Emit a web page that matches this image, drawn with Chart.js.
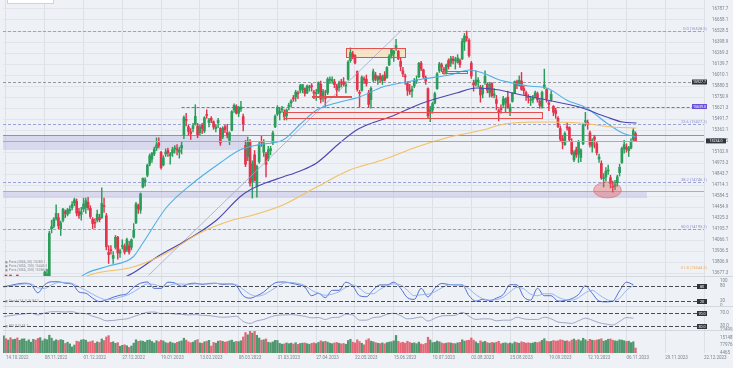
<!DOCTYPE html>
<html><head><meta charset="utf-8">
<script src="https://cdn.jsdelivr.net/npm/chart.js@4.4.0/dist/chart.umd.min.js"></script>
<style>html,body{margin:0;padding:0;background:#eef1f5;}canvas{display:block;}</style>
</head><body>
<canvas id="c" width="733" height="368"></canvas>
<script>
// ---------- DATA ----------
const dateLabels = ['14.10.2022','08.11.2022','01.12.2022','27.12.2022','19.01.2023','13.02.2023','08.03.2023','31.03.2023','27.04.2023','22.05.2023','15.06.2023','10.07.2023','02.08.2023','25.08.2023','19.09.2023','12.10.2023','06.11.2023','29.11.2023','22.12.2023'];
const dateIdx = [1,18,35,52,69,86,103,120,137,154,171,188,205,222,239,256,273,290,307];

const opens = [12130,12440,12480,12770,12700,12700,12740,12840,12960,13120,
13190,13200,13220,13300,13330,13170,13190,13420,13520,13650,
13630,14200,14230,14320,14330,14200,14300,14400,14370,14410,
14450,14500,14520,14400,14370,14430,14450,14510,14440,14310,
14270,14300,14330,14330,14470,14350,13920,13950,13850,13980,
14100,13910,13990,13990,13950,14000,13980,14100,14270,14470,
14420,14690,14750,14830,14960,15020,15080,15150,15210,15100,
14950,15080,15120,15060,15090,15140,15140,15100,15150,15300,
15480,15400,15340,15380,15430,15410,15330,15420,15350,15540,
15450,15500,15460,15380,15450,15380,15280,15400,15330,15240,
15360,15600,15640,15560,15610,15520,15180,15050,15220,14750,
15070,14700,14990,15220,15100,15080,15020,15120,15210,15400,
15550,15560,15600,15570,15530,15640,15680,15730,15750,15800,
15830,15840,15850,15800,15860,15880,15810,15790,15810,15900,
15760,15750,15800,15950,15940,15930,15880,15860,15920,15930,
15880,15960,16180,16260,16240,16050,15800,15830,15960,15960,
15800,15720,15950,16010,15950,16000,15940,16010,15980,16130,
16240,16260,16330,16290,16170,16060,16000,15910,15830,15820,
15880,15940,15990,16150,16070,15980,15850,15560,15600,15680,
15850,16060,16130,16070,16040,16180,16150,16200,16180,16160,
16180,16200,16400,16460,16420,16150,15920,15900,15930,15870,
15790,15920,15900,15800,15910,15770,15720,15590,15620,15660,
15680,15750,15580,15700,15800,15930,15890,15940,15850,15800,
15750,15710,15720,15760,15790,15700,15640,15860,15840,15680,
15720,15640,15590,15500,15380,15260,15190,15400,15390,15220,
15010,15130,15080,15040,15200,15460,15450,15330,15170,15280,
15200,15020,14970,14790,14810,14880,14800,14690,14700,14740,
14860,14980,15140,15160,15120,15150,15250,15320];
const highs = [12380,12550,12670,12890,12760,12800,12750,12970,13080,13250,
13300,13270,13300,13420,13360,13220,13480,13560,13700,13720,
14170,14300,14330,14480,14380,14290,14440,14420,14440,14470,
14520,14560,14550,14440,14450,14560,14560,14570,14470,14330,
14320,14420,14370,14680,14560,14380,14000,14000,13930,14120,
14110,13960,14070,14020,14090,14050,14080,14260,14510,14490,
14620,14800,14800,14960,15080,15100,15160,15270,15270,15110,
15060,15140,15150,15100,15160,15180,15190,15160,15220,15530,
15560,15420,15380,15440,15660,15440,15420,15440,15520,15600,
15500,15520,15470,15430,15500,15390,15400,15420,15430,15340,
15590,15670,15660,15640,15700,15550,15240,15280,15250,15000,
15120,14950,15220,15290,15250,15100,15170,15170,15350,15540,
15650,15630,15640,15600,15610,15680,15720,15770,15830,15820,
15900,15900,15860,15890,15890,15910,15830,15840,15930,15940,
15840,15830,15980,15990,15990,15960,15900,15940,15960,15980,
15930,16180,16330,16290,16250,16060,15830,16000,15990,16010,
15830,15870,16080,16040,16000,16030,16010,16050,16110,16250,
16320,16300,16430,16300,16210,16100,16020,15930,15900,15880,
15970,16000,16160,16170,16080,16000,15860,15640,15690,15810,
16040,16160,16150,16100,16140,16200,16230,16230,16220,16250,
16200,16440,16500,16528,16440,16170,15950,16060,15980,15890,
15890,16060,15920,15920,15920,15850,15770,15610,15660,15760,
15740,15820,15670,15800,15940,15950,16000,16040,15880,15820,
15780,15760,15770,15820,15810,15720,15820,16080,15850,15700,
15820,15650,15620,15520,15410,15300,15340,15450,15400,15260,
15120,15160,15240,15140,15440,15570,15480,15350,15260,15300,
15230,15080,15000,14850,14920,14950,14830,14760,14770,14830,
14960,15160,15240,15200,15170,15260,15380,15340];
const lows = [11975,12350,12440,12690,12590,12620,12510,12750,12890,13080,
13150,13100,13180,13270,13180,13040,13170,13370,13480,13580,
13600,14150,14210,14300,14200,14120,14280,14330,14350,14380,
14420,14470,14350,14320,14300,14400,14380,14420,14320,14200,
14210,14280,14280,14320,14390,13950,13790,13900,13790,13960,
13840,13860,13960,13900,13930,13900,13950,14090,14260,14380,
14380,14680,14700,14810,14940,14980,15060,15120,15150,14900,
14940,15050,15050,14960,15050,15090,15070,15030,15080,15260,
15410,15300,15250,15340,15420,15270,15300,15320,15330,15500,
15400,15450,15370,15340,15390,15180,15260,15330,15270,15190,
15350,15570,15550,15520,15580,15350,14930,15000,14700,14560,
14760,14570,14970,15170,15050,14810,15000,15070,15190,15390,
15530,15480,15570,15480,15480,15600,15630,15700,15700,15730,
15800,15800,15760,15790,15820,15820,15730,15710,15790,15680,
15700,15630,15780,15910,15910,15860,15760,15820,15870,15880,
15800,15950,16160,16200,16140,15820,15630,15820,15910,15880,
15630,15620,15930,15940,15900,15920,15900,15940,15970,16120,
16210,16170,16300,16190,16060,15990,15900,15770,15780,15750,
15860,15910,15980,16060,15970,15900,15500,15460,15560,15670,
15840,16040,16050,16020,16020,16080,16110,16140,16080,16150,
16100,16190,16300,16410,16220,15970,15820,15880,15870,15690,
15740,15900,15800,15750,15750,15740,15600,15470,15560,15640,
15570,15620,15530,15690,15790,15850,15880,15830,15780,15710,
15680,15650,15680,15740,15690,15620,15620,15850,15690,15590,
15700,15530,15500,15390,15230,15140,15180,15360,15230,15070,
14990,15040,14980,14990,15190,15410,15370,15160,15100,15150,
15070,14980,14780,14690,14760,14840,14680,14630,14660,14700,
14820,14970,15090,15100,15050,15140,15230,15230];
const closes = [12355,12438,12649,12765,12741,12767,12731,12931,13052,13195,
13211,13243,13253,13338,13256,13130,13460,13533,13689,13666,
14146,14224,14313,14379,14234,14267,14431,14380,14423,14428,
14484,14541,14383,14355,14397,14490,14529,14448,14343,14261,
14264,14371,14306,14497,14460,13987,13894,13942,13884,14098,
13914,13940,13995,13925,14071,13924,14069,14181,14491,14436,
14610,14792,14775,14948,15058,15086,15134,15187,15181,14920,
15033,15103,15094,15082,15132,15150,15126,15128,15181,15509,
15476,15345,15320,15412,15523,15307,15397,15380,15506,15534,
15482,15477,15398,15400,15475,15210,15381,15365,15305,15327,
15578,15653,15560,15631,15633,15428,14959,15232,14735,14967,
14768,14933,15195,15216,15210,14957,15128,15142,15328,15522,
15629,15581,15603,15520,15598,15655,15703,15729,15808,15789,
15883,15896,15795,15882,15864,15872,15796,15800,15922,15726,
15815,15734,15961,15952,15955,15897,15834,15914,15917,15898,
15897,16163,16275,16224,16152,15842,15794,15984,15952,15909,
15664,15853,16051,15964,15992,15960,15990,15950,16098,16231,
16311,16290,16358,16201,16111,16023,15988,15830,15813,15846,
15949,15946,16148,16081,15989,15938,15529,15603,15673,15790,
16024,16141,16105,16068,16125,16109,16204,16177,16191,16211,
16131,16406,16469,16447,16240,15999,15893,15952,15950,15775,
15852,15996,15832,15904,15767,15789,15676,15574,15603,15729,
15729,15622,15632,15792,15931,15891,15947,15840,15825,15772,
15741,15718,15740,15800,15715,15654,15806,15894,15727,15664,
15782,15572,15557,15405,15256,15217,15323,15387,15247,15085,
15100,15070,15229,15128,15423,15460,15425,15187,15238,15251,
15095,15045,14798,14800,14879,14892,14731,14687,14716,14810,
14923,15143,15189,15136,15152,15229,15353,15234];
const volumes = [168000,142000,128000,151000,133000,137000,149000,126000,139000,141000,118000,131000,109000,136000,128000,144000,152000,121000,139000,132000,
175000,147000,119000,131000,124000,133000,127000,96000,108000,92000,63000,81000,118000,112000,129000,134000,127000,109000,113000,121000,98000,111000,105000,139000,124000,
158000,171000,106000,112000,97000,104000,69000,78000,83000,74000,58000,72000,99000,131000,116000,
121000,118000,109000,126000,129000,115000,101000,122000,113000,127000,120000,104000,99000,110000,102000,96000,107000,114000,121000,146000,128000,112000,103000,109000,124000,133000,101000,98000,112000,117000,126000,71000,106000,99000,118000,122000,116000,109000,114000,121000,
128000,109000,116000,113000,122000,158000,201000,179000,212000,196000,218000,174000,148000,127000,131000,139000,108000,102000,111000,126000,
124000,97000,89000,92000,101000,94000,99000,91000,103000,87000,96000,99000,101000,94000,88000,97000,102000,95000,106000,121000,112000,117000,109000,99000,94000,101000,106000,98000,92000,96000,88000,124000,136000,109000,101000,131000,114000,97000,83000,128000,
141000,118000,112000,104000,98000,95000,101000,93000,104000,109000,113000,121000,173000,116000,102000,108000,99000,117000,106000,98000,102000,94000,109000,91000,86000,97000,156000,129000,104000,108000,119000,112000,101000,95000,99000,104000,101000,96000,94000,102000,
106000,131000,118000,124000,127000,149000,128000,111000,96000,121000,109000,116000,104000,98000,106000,101000,108000,117000,93000,99000,102000,95000,101000,94000,109000,104000,98000,112000,106000,99000,103000,97000,101000,108000,104000,111000,126000,142000,118000,113000,
116000,124000,119000,121000,131000,127000,118000,122000,113000,128000,138000,124000,132000,121000,146000,131000,119000,136000,127000,124000,129000,133000,141000,118000,125000,136000,139000,127000,121000,119000,131000,128000,122000,115000,118000,104000,112000,52000];

// moving averages (bar index, value)
const ma50X = [30,36.5,46,56.7,61,71.5,83,94.8,103.5,112,122.4,130,137.2,147,156,166.1,176.6,183.7,195.5,204.3,210,217.4,223,230,238,246.7,255.5,264.3,271.3,277.4];
const ma50Y = [13560,13678,13760,13866,14031,14455,14738,14973,15127,15190,15244,15430,15598,15690,15751,15869,15928,15963,16010,16069,16034,15951,15916,15880,15857,15716,15621,15445,15327,15280];
const ma100X = [50,56.7,68,80.3,93.4,103.5,107.9,115,122.4,130,137.2,147.3,154.7,160,169.2,183.7,198.5,207.3,217.4,223,238,252.4,264.3,271.3,277.4];
const ma100Y = [13590,13678,13880,14066,14302,14573,14655,14740,14809,14880,14974,15209,15362,15430,15515,15680,15798,15857,15833,15798,15716,15633,15515,15456,15445];
const ma200X = [36,40.9,56.7,71.5,86,100.4,107.9,122.4,137.2,151.7,166.1,181,195.5,210,217.4,223,238,252.4,266.9,277.4];
const ma200Y = [13640,13678,13748,13913,14149,14302,14349,14479,14691,14891,15009,15162,15280,15362,15421,15445,15457,15445,15398,15386];
const trendX = [63.5,174.5];
const trendY = [13650,16540];

// oscillators (every 3rd bar)
const stochK = [77,82,88,91,85,52,85,97,97,91,88,55,50,30,16,23,34,42,48,75,91,96,70,70,95,92,78,88,91,86,90,91,86,88,80,40,30,40,55,80,95,96,91,85,75,40,50,32,62,62,95,80,40,36,64,84,84,95,70,32,25,70,35,70,90,86,84,84,40,18,25,20,30,45,85,84,35,22,70,40,40,18,20,28,45,80,50,18,15,18,60,95,85];
const stochD = [75,79,84,88,88,72,70,84,94,94,90,76,62,46,32,24,26,34,42,56,74,88,86,78,80,88,88,86,88,88,88,90,89,88,85,66,46,38,44,60,78,92,94,90,82,62,50,42,46,56,74,84,70,50,48,66,80,88,84,62,40,44,46,56,72,84,86,84,68,44,28,22,24,34,56,74,68,46,40,48,48,34,24,22,32,52,62,44,26,18,30,62,82];
const rsi = [59,62,65,67,69,64,70,74,74,73,74,69,68,60,54,46,47,50,52,59,66,72,73,68,69,67,66,64,65,63,62,59,57,58,60,44,38,46,50,58,63,64,65,63,60,55,56,50,56,57,66,64,48,48,56,58,66,69,62,52,54,58,45,54,61,62,63,72,60,50,52,52,46,48,48,57,52,50,50,57,52,42,40,38,46,54,48,40,36,33,44,56,54];

// axis ticks
const priceTicks = [16787.7,16658.1,16528.5,16398.9,16269.3,16139.7,16010.1,15880.5,15750.9,15621.3,15491.7,15362.1,15232.5,15102.9,14973.3,14843.7,14714.1,14584.5,14454.9,14325.3,14195.7,14066.1,13936.5,13806.9,13677.3];
const stochTicks = [0,20,80,100];
const rsiTicks = [30,70];
const volTicks = [4465,77976,151487,224999];

// drawn levels / zones (price, bar index)
const fibPrices = [16528.5,15427.2,14746.1,14195.2,13644.3];
const fibNames = ['0.0 (16528.5)','23.6 (15427.2)','38.2 (14746.1)','50.0 (14195.2)','61.8 (13644.3)'];
const grayLevel = 15927.7;
const purpleLevel = 15639.0;
const purpleStart = 78;
const redLevel = 15303;
const zoneTop = [15303,14644];
const zoneBottom = [15127,14561];
const zoneEnd = [107,282];
const boxI0 = [150,135,192,123];
const boxI1 = [176,152,203,236];
const boxP0 = [16328,15762,16057,15574];
const boxP1 = [16222,15745,16033,15504];
const ellI = [258.6,270.8];
const ellP = [14561,14750];

// ---------- CHART ----------
const UP='#2a9d5a', DN='#e3344c';
const n = closes.length;
const candleCol = closes.map((c,i)=> c>=opens[i]?UP:DN);
const volCol = closes.map((c,i)=> c>=opens[i]?'rgba(62,140,95,0.9)':'rgba(226,88,104,0.9)');
const oscIdx = stochK.map((_,k)=>k*3);
const FONT = {family:'Roboto', size:4.5};
const TICKC = '#7f858f';
function fixW(s){ s.width = 29; s.paddingTop=0; s.paddingBottom=0; }

const overlay = {
  id:'overlay',
  beforeDraw(c){ const ctx=c.ctx; ctx.save(); ctx.fillStyle='#eef1f5'; ctx.fillRect(0,0,c.width,c.height); ctx.restore(); },
  beforeDatasetsDraw(c){
    const {ctx, chartArea:a, scales:{x,y}} = c;
    const X=v=>x.getPixelForValue(v), Y=v=>y.getPixelForValue(v);
    ctx.save();
    ctx.beginPath(); ctx.rect(a.left,y.top,a.right-a.left,y.bottom-y.top); ctx.clip();
    for(let k=0;k<zoneTop.length;k++){
      const x1 = X(zoneEnd[k]);
      ctx.fillStyle='rgba(190,188,228,0.45)';
      ctx.fillRect(a.left,Y(zoneTop[k]),x1-a.left,Y(zoneBottom[k])-Y(zoneTop[k]));
    }
    for(let k=0;k<boxI0.length;k++){
      ctx.fillStyle = k===0?'rgba(250,222,180,0.75)':'rgba(250,225,225,0.5)';
      ctx.fillRect(X(boxI0[k]),Y(boxP0[k]),X(boxI1[k])-X(boxI0[k]),Y(boxP1[k])-Y(boxP0[k]));
    }
    const hline=(p,col,x0,dash,w)=>{ctx.beginPath();ctx.setLineDash(dash);ctx.strokeStyle=col;ctx.lineWidth=w;const yy=Math.round(Y(p))+0.5;ctx.moveTo(x0,yy);ctx.lineTo(a.right,yy);ctx.stroke();};
    fibPrices.forEach(p=>hline(p,'#9197d6',a.left,[3,2],0.9));
    hline(grayLevel,'#8c8f96',a.left,[3,2],0.9);
    hline(purpleLevel,'#6e58d8',X(purpleStart),[3,2],0.9);
    hline(redLevel,'#e07474',a.left,[],1);
    hline(zoneTop[1],'#e89a8a',a.left,[],1);
    ctx.restore();
  },
  afterDatasetsDraw(c){
    const {ctx, chartArea:a, scales:{x,y,yS,yR,yV}} = c;
    const X=v=>x.getPixelForValue(v), Y=v=>y.getPixelForValue(v);
    ctx.save();
    ctx.strokeStyle='#e25050'; ctx.lineWidth=1; ctx.setLineDash([]);
    for(let k=0;k<boxI0.length;k++){
      ctx.strokeRect(Math.round(X(boxI0[k]))+0.5,Math.round(Y(boxP0[k]))+0.5,Math.round(X(boxI1[k])-X(boxI0[k])),Math.max(1,Math.round(Y(boxP1[k])-Y(boxP0[k]))));
    }
    const ex0=X(ellI[0]),ex1=X(ellI[1]),ey0=Y(ellP[1]),ey1=Y(ellP[0]);
    ctx.beginPath(); ctx.ellipse((ex0+ex1)/2,(ey0+ey1)/2,(ex1-ex0)/2,(ey1-ey0)/2,0,0,Math.PI*2);
    ctx.fillStyle='rgba(230,90,90,0.38)'; ctx.fill(); ctx.strokeStyle='rgba(220,90,90,0.6)'; ctx.lineWidth=0.8; ctx.stroke();
    const last = closes[n-1], ly=Math.round(Y(last))+0.5;
    ctx.strokeStyle='#a7abb2'; ctx.lineWidth=1; ctx.beginPath(); ctx.moveTo(a.left,ly); ctx.lineTo(a.right,ly); ctx.stroke();
    ctx.font='4px Roboto'; ctx.textAlign='right'; ctx.textBaseline='bottom';
    fibPrices.forEach((p,k)=>{ ctx.fillStyle = k===4?'#f0b060':'#8a90d0'; ctx.fillText(fibNames[k], 707, k===4?Y(p)-6:Y(p)-0.5); });
    const tag=(yy,bg,txt,x0,w)=>{ctx.fillStyle=bg;ctx.fillRect(x0,yy-2.5,w,5);ctx.fillStyle='#fff';ctx.font='3.6px Roboto';ctx.textAlign='center';ctx.textBaseline='middle';ctx.fillText(txt,x0+w/2,yy+0.2);};
    tag(Y(grayLevel),'#30353d',grayLevel.toFixed(1),692,15);
    tag(Y(purpleLevel),'#6a4fd6',purpleLevel.toFixed(1),692,15);
    tag(Y(last),'#30353d',last.toFixed(1),706,20);
    const dl=(s,v,txt)=>{const yy=Math.round(s.getPixelForValue(v))+0.5;ctx.beginPath();ctx.setLineDash([4,2]);ctx.strokeStyle='#4a4e56';ctx.lineWidth=1.2;ctx.moveTo(a.left,yy);ctx.lineTo(a.right-6,yy);ctx.stroke();ctx.setLineDash([]);tag(yy,'#30353d',txt,697,10);};
    dl(yS,80,'80'); dl(yS,20,'20'); dl(yR,70,'70.0'); dl(yR,30,'30.0');
    ctx.strokeStyle='#d3d7de'; ctx.lineWidth=1;
    [yS.top,yR.top,yV.top].forEach(t=>{ctx.beginPath();ctx.moveTo(a.left,Math.round(t)+0.5);ctx.lineTo(733,Math.round(t)+0.5);ctx.stroke();});
    ctx.fillStyle='#fff'; ctx.fillRect(7,0,46,3.5); ctx.strokeStyle='#d0d4da'; ctx.strokeRect(7.5,-0.5,46,4);
    ctx.font='3.4px Roboto'; ctx.textAlign='left'; ctx.textBaseline='middle'; ctx.fillStyle='#8a8f98';
    ['\u25A3 Preis (SMA, 50) 15280.1','\u25A3 Preis (SMA, 100) 15445.3','\u25A3 Preis (SMA, 200) 15386.0'].forEach((t,k)=>ctx.fillText(t,5,262+k*4));
    ctx.fillText('\u25A3 Stoch (14, 3, 3) 84.2',5,301.5);
    ctx.fillText('\u25A3 RSI (14) 54.1',5,326.5);
    ctx.fillText('\u25A3 Volumen (Vol) 20000',5,351);
    ctx.restore();
  },
  beforeDatasetDraw(c,args){
    const ds=c.data.datasets[args.index]; const s=c.scales[ds.yAxisID||'y']; const a=c.chartArea;
    c.ctx.save(); c.ctx.beginPath(); c.ctx.rect(a.left,s.top,a.right-a.left,s.bottom-s.top); c.ctx.clip();
  },
  afterDatasetDraw(c){ c.ctx.restore(); }
};

const lineDS=(xs,ys,col,w,axis)=>({type:'line',data:xs.map((v,i)=>({x:v,y:ys[i]})),borderColor:col,borderWidth:w,pointRadius:0,cubicInterpolationMode:'monotone',yAxisID:axis||'y',order:0});

new Chart(document.getElementById('c'),{
  type:'line',
  data:{datasets:[
    lineDS(ma200X,ma200Y,'#f2c063',1.1),
    lineDS(ma100X,ma100Y,'#4f47b0',1.1),
    lineDS(ma50X,ma50Y,'#4fb0e6',1.1),
    {type:'line',data:trendX.map((v,i)=>({x:v,y:trendY[i]})),borderColor:'#a3a8c8',borderWidth:0.8,pointRadius:0,yAxisID:'y',order:0},
    {type:'bar',data:highs.map((h,i)=>({x:i,y:[lows[i],h]})),backgroundColor:candleCol,barThickness:0.8,grouped:false,yAxisID:'y',order:3},
    {type:'bar',data:opens.map((o,i)=>({x:i,y:[o,closes[i]]})),backgroundColor:candleCol,barThickness:2,minBarLength:1,grouped:false,yAxisID:'y',order:2},
    lineDS(oscIdx,stochD,'#8fb0ea',0.9,'yS'),
    lineDS(oscIdx,stochK,'#3f5fd2',0.9,'yS'),
    lineDS(oscIdx,rsi,'#8a95bd',0.8,'yR'),
    {type:'bar',data:volumes.map((v,i)=>({x:i,y:v})),backgroundColor:volCol,barThickness:1.6,grouped:false,yAxisID:'yV',order:2}
  ]},
  options:{
    responsive:false, animation:false, devicePixelRatio:1,
    layout:{padding:{left:3,top:0,right:0,bottom:0},autoPadding:false},
    plugins:{legend:{display:false},tooltip:{enabled:false}},
    scales:{
      x:{type:'linear',min:-0.3,max:307,offset:false,
         afterBuildTicks:s=>{s.ticks=dateIdx.map(v=>({value:v}));},
         afterFit:s=>{s.height=15;s.paddingLeft=0;s.paddingRight=0;},
         ticks:{autoSkip:false,maxRotation:0,align:'start',padding:2,font:FONT,color:TICKC,callback:(v)=>dateLabels[dateIdx.indexOf(v)]},
         grid:{color:'#dde1e7',drawTicks:false,offset:false},border:{display:false}},
      y:{type:'linear',position:'right',stack:'s',stackWeight:276,min:13642.4,max:16893.7,
         afterBuildTicks:s=>{s.ticks=priceTicks.map(v=>({value:v}));},afterFit:fixW,
         ticks:{autoSkip:false,padding:8,font:FONT,color:TICKC,callback:v=>v.toFixed(1)},
         grid:{color:'#e1e4ea',drawTicks:false},border:{display:false}},
      yS:{type:'linear',position:'right',stack:'s',stackWeight:30,min:-2,max:120.4,
         afterBuildTicks:s=>{s.ticks=stochTicks.map(v=>({value:v}));},afterFit:fixW,
         ticks:{autoSkip:false,padding:8,font:FONT,color:TICKC,callback:v=>String(v)},grid:{display:false},border:{display:false}},
      yR:{type:'linear',position:'right',stack:'s',stackWeight:24,min:17.7,max:91.5,
         afterBuildTicks:s=>{s.ticks=rsiTicks.map(v=>({value:v}));},afterFit:fixW,
         ticks:{autoSkip:false,padding:8,font:FONT,color:TICKC,callback:v=>v.toFixed(1)},grid:{display:false},border:{display:false}},
      yV:{type:'linear',position:'right',stack:'s',stackWeight:23,min:4465,max:224999,
         afterBuildTicks:s=>{s.ticks=volTicks.map(v=>({value:v}));},afterFit:fixW,
         ticks:{autoSkip:false,padding:8,font:FONT,color:TICKC,callback:v=>String(v)},grid:{display:false},border:{display:false}}
    }
  },
  plugins:[overlay]
});
</script>
</body></html>
